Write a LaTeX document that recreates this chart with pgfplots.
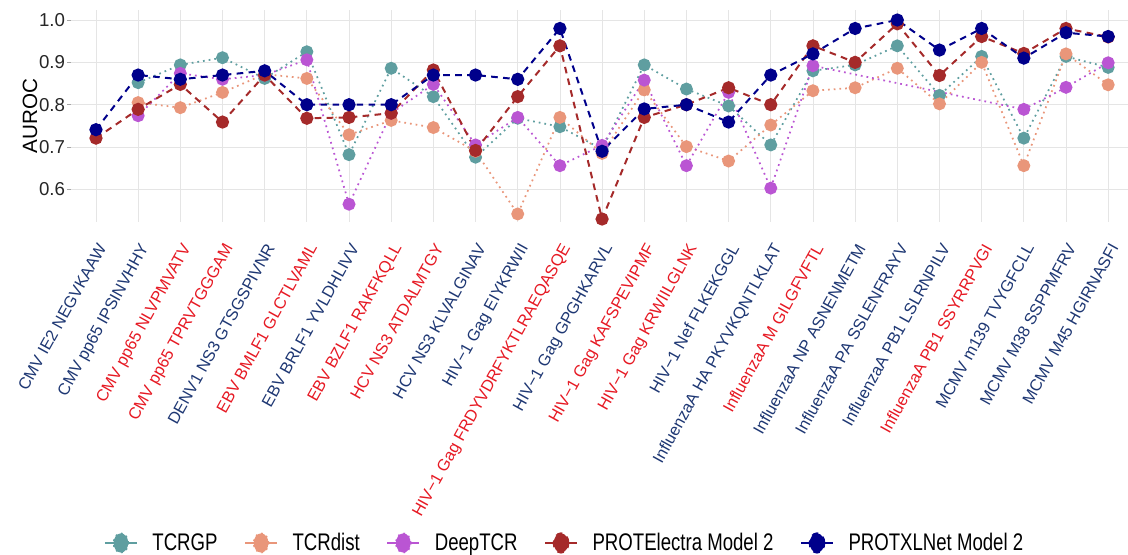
\documentclass[border=0pt]{standalone}
\usepackage{fontspec}
\setmainfont{Liberation Sans}
\usepackage{graphicx}
\usepackage{pgfplots}
\pgfplotsset{compat=1.18}
\definecolor{tcrgp}{RGB}{95,158,160}
\definecolor{tcrdist}{RGB}{233,150,122}
\definecolor{deeptcr}{RGB}{186,85,211}
\definecolor{protel}{RGB}{165,42,42}
\definecolor{protxl}{RGB}{0,0,139}
\definecolor{lblred}{RGB}{230,25,35}
\definecolor{lblblue}{RGB}{30,55,115}
\newcommand{\LB}[1]{\textcolor{lblblue}{#1}}
\newcommand{\LR}[1]{\textcolor{lblred}{#1}}
\pgfplotstableread{
x y
1 0.852
2 0.894
3 0.911
4 0.862
5 0.925
6 0.682
7 0.886
8 0.819
9 0.676
10 0.768
11 0.748
12 0.695
13 0.894
14 0.837
15 0.797
16 0.705
17 0.880
18 0.894
19 0.939
20 0.822
21 0.914
22 0.721
23 0.914
24 0.888
}\tcrgp
\pgfplotstableread{
x y
1 0.805
2 0.793
3 0.829
4 0.872
5 0.862
6 0.729
7 0.763
8 0.746
9 0.690
10 0.542
11 0.770
12 0.685
13 0.835
14 0.701
15 0.667
16 0.752
17 0.833
18 0.840
19 0.886
20 0.802
21 0.900
22 0.656
23 0.920
24 0.847
}\tcrdist
\pgfplotstableread{
x y
1 0.774
2 0.874
3 0.860
4 0.870
5 0.906
6 0.565
7 0.780
8 0.848
9 0.705
10 0.770
11 0.656
12 0.704
13 0.858
14 0.656
15 0.829
16 0.603
17 0.892
22 0.789
23 0.841
24 0.899
}\deeptcr
\pgfplotstableread{
x y
0 0.721
1 0.789
2 0.848
3 0.759
4 0.870
5 0.768
6 0.770
7 0.780
8 0.882
9 0.692
10 0.819
11 0.939
12 0.530
13 0.770
14 0.800
15 0.840
16 0.800
17 0.939
18 0.900
19 0.991
20 0.869
21 0.961
22 0.921
23 0.980
24 0.960
}\protel
\pgfplotstableread{
x y
0 0.741
1 0.870
2 0.860
3 0.870
4 0.880
5 0.800
6 0.800
7 0.800
8 0.870
9 0.870
10 0.860
11 0.980
12 0.690
13 0.790
14 0.800
15 0.759
16 0.870
17 0.920
18 0.980
19 1.000
20 0.929
21 0.980
22 0.910
23 0.970
24 0.961
}\protxl
\begin{document}
\begin{tikzpicture}
\path[use as bounding box] (-53pt,-249pt) rectangle (793pt,166.5pt);
\begin{axis}[
  scale only axis, width=793pt, height=159pt,
  xmin=-0.6, xmax=24.47, ymin=0.523, ymax=1.0236,
  xtick={0,...,24},
  xticklabels={
    \LB{CMV IE2 NEGVKAAW},
    \LB{CMV pp65 IPSINVHHY},
    \LR{CMV pp65 NLVPMVATV},
    \LR{CMV pp65 TPRVTGGGAM},
    \LB{DENV1 NS3 GTSGSPIVNR},
    \LR{EBV BMLF1 GLCTLVAML},
    \LB{EBV BRLF1 YVLDHLIVV},
    \LR{EBV BZLF1 RAKFKQLL},
    \LR{HCV NS3 ATDALMTGY},
    \LB{HCV NS3 KLVALGINAV},
    \LB{HIV−1 Gag EIYKRWII},
    \LR{HIV−1 Gag FRDYVDRFYKTLRAEQASQE},
    \LB{HIV−1 Gag GPGHKARVL},
    \LR{HIV−1 Gag KAFSPEVIPMF},
    \LR{HIV−1 Gag KRWIILGLNK},
    \LB{HIV−1 Nef FLKEKGGL},
    \LB{InfluenzaA HA PKYVKQNTLKLAT},
    \LR{InfluenzaA M GILGFVFTL},
    \LB{InfluenzaA NP ASNENMETM},
    \LB{InfluenzaA PA SSLENFRAYV},
    \LB{InfluenzaA PB1 LSLRNPILV},
    \LR{InfluenzaA PB1 SSYRRPVGI},
    \LB{MCMV m139 TVYGFCLL},
    \LB{MCMV M38 SSPPMFRV},
    \LB{MCMV M45 HGIRNASFI}},
  ytick={0.6,0.7,0.8,0.9,1.0},
  /pgf/number format/fixed,
  /pgf/number format/fixed zerofill,
  /pgf/number format/precision=1,
  /pgf/number format/assume math mode=true,
  grid=major,
  major grid style={black!10, line width=0.6pt},
  axis line style={draw=none},
  tick align=outside,
  major tick length=2.5pt,
  x tick style={draw=none},
  y tick style={black!35, line width=0.6pt},
  yticklabel style={font=\fontsize{14}{16}\selectfont, text=black!85, inner sep=1.5pt},
  xticklabel style={font=\fontsize{12.3}{14}\selectfont, rotate=61, anchor=north east, inner sep=0pt, xshift=-10.7pt, yshift=-6.5pt},
  ylabel={\fontsize{15.5}{18}\selectfont AUROC},
  ylabel style={at={(axis description cs:-0.0385,0.5)}, anchor=center},
  clip=false,
  legend columns=5,
  legend style={at={(axis description cs:0.4675,-1.514)}, anchor=center, draw=none, fill=none,
    font=\fontsize{18}{20}\selectfont,
    /tikz/every even column/.append style={column sep=18pt},
    /tikz/every odd column/.append style={column sep=9pt}},
  legend image code/.code={
    \draw[#1, solid, line width=1.3pt] (0pt,0pt) -- (24pt,0pt);
    \fill[#1] (12pt,0pt) ellipse [x radius=5.5pt, y radius=7.2pt];},
]
\addplot[color=tcrgp, line width=1.3pt, dash pattern=on 1.3pt off 3pt, mark=*, mark size=4.2pt, mark options={solid}] table[x=x,y=y] {\tcrgp};
\addlegendentry{\scalebox{0.775}[1]{TCRGP}}
\addplot[color=tcrdist, line width=1.3pt, dash pattern=on 1.3pt off 3pt, mark=*, mark size=4.2pt, mark options={solid}] table[x=x,y=y] {\tcrdist};
\addlegendentry{\scalebox{0.775}[1]{TCRdist}}
\addplot[color=deeptcr, line width=1.3pt, dash pattern=on 1.3pt off 3pt, mark=*, mark size=4.2pt, mark options={solid}] table[x=x,y=y] {\deeptcr};
\addlegendentry{\scalebox{0.775}[1]{DeepTCR}}
\addplot[color=protel, line width=1.5pt, dash pattern=on 5pt off 4pt, mark=*, mark size=4.2pt, mark options={solid}] table[x=x,y=y] {\protel};
\addlegendentry{\scalebox{0.775}[1]{PROTElectra Model 2}}
\addplot[color=protxl, line width=1.5pt, dash pattern=on 5pt off 4pt, mark=*, mark size=4.2pt, mark options={solid}] table[x=x,y=y] {\protxl};
\addlegendentry{\scalebox{0.775}[1]{PROTXLNet Model 2}}
\end{axis}
\end{tikzpicture}
\end{document}
